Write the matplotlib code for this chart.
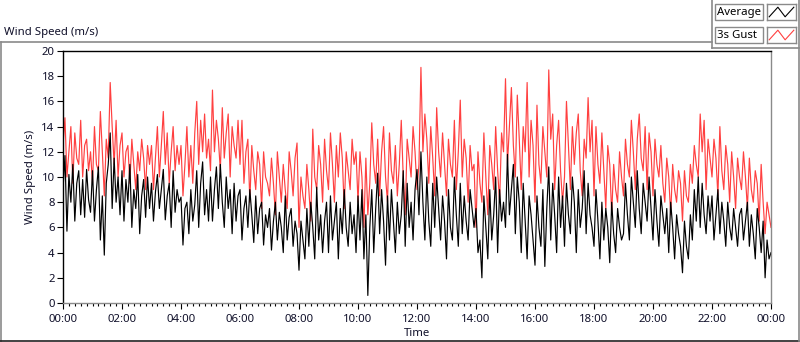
import matplotlib
matplotlib.use("Agg")
import matplotlib.pyplot as plt
from matplotlib.patches import Rectangle
from matplotlib.lines import Line2D
import numpy as np

plt.rcParams["font.family"] = ["Noto Sans", "DejaVu Sans"]

# ---- data (4-minute samples, hours 0..24) ----
average = [
    9.0, 11.7, 5.7, 10.2, 8.0, 11.0, 6.5, 9.5, 10.5, 7.0, 9.8, 6.8, 10.6, 8.2, 7.2,
    10.5, 6.5, 9.0, 10.8, 5.0, 8.5, 3.8, 9.5, 11.0, 13.5, 7.5, 11.5, 8.0, 10.0, 7.0,
    10.5, 6.5, 9.8, 8.0, 11.0, 6.0, 9.0, 7.5, 10.2, 5.5, 8.5, 9.8, 6.8, 10.0, 7.5,
    9.5, 6.5, 8.8, 10.2, 7.5, 9.0, 10.6, 6.6, 8.5, 9.5, 6.0, 10.5, 7.2, 9.0, 8.0,
    8.4, 4.6, 7.5, 8.0, 5.5, 9.0, 6.5, 7.8, 10.5, 6.0, 9.5, 11.2, 7.0, 9.0, 6.5,
    10.0, 6.5, 9.0, 10.8, 7.5, 11.0, 8.0, 6.0, 10.0, 7.5, 9.0, 5.5, 9.5, 6.5, 8.5,
    9.0, 5.0, 7.5, 8.5, 6.0, 9.0, 7.0, 4.8, 8.5, 5.5, 7.5, 8.0, 4.6, 7.0, 6.0,
    7.5, 4.2, 6.5, 8.0, 5.0, 7.2, 6.0, 4.0, 8.5, 5.0, 6.8, 7.5, 4.5, 6.5, 5.5,
    2.6, 6.5, 5.0, 3.5, 7.5, 4.5, 8.0, 6.0, 3.5, 9.2, 5.0, 7.0, 4.0, 6.5, 8.0,
    4.0, 8.5, 5.0, 6.5, 8.0, 3.5, 7.5, 5.5, 9.0, 6.0, 4.5, 8.0, 5.5, 7.0, 4.0,
    8.5, 5.0, 9.0, 3.5, 7.0, 0.6, 6.0, 9.0, 4.0, 7.5, 10.3, 5.5, 9.0, 6.5, 3.0,
    8.5, 5.0, 9.0, 6.5, 4.0, 8.0, 5.5, 7.0, 10.5, 4.5, 9.5, 6.0, 8.0, 5.0, 9.0,
    10.6, 7.0, 12.0, 8.0, 5.0, 10.0, 6.5, 4.5, 9.5, 6.0, 10.0, 7.5, 5.0, 8.5, 6.5,
    3.5, 9.0, 6.0, 5.0, 10.0, 7.0, 4.5, 9.5, 5.5, 8.5, 6.5, 5.0, 9.0, 7.5, 6.0,
    7.5, 4.0, 5.0, 2.0, 8.5, 6.0, 3.5, 9.0, 5.0, 7.0, 10.0, 4.0, 9.0, 6.5, 8.0,
    6.0, 11.8, 7.0, 9.0, 11.0, 5.5, 10.0, 8.0, 4.0, 9.5, 6.5, 3.5, 8.5, 7.0, 5.0,
    3.0, 8.5, 6.0, 4.5, 9.0, 2.9, 7.5, 10.8, 5.0, 9.5, 7.0, 4.0, 10.0, 6.0, 8.5,
    4.5, 9.5, 7.0, 5.5, 10.0, 8.0, 4.0, 9.0, 6.0, 7.5, 10.5, 5.5, 9.5, 7.0, 6.0,
    4.5, 9.0, 6.5, 3.5, 8.0, 5.0, 7.5, 6.0, 3.2, 8.0, 5.5, 4.0, 7.5, 6.0, 5.0,
    5.5, 9.5, 7.0, 5.0, 10.0, 8.0, 6.0, 10.5, 7.5, 5.5, 9.5, 8.0, 6.5, 10.0, 7.5,
    5.0, 9.0, 6.5, 4.5, 8.5, 7.0, 5.5, 7.5, 4.0, 8.0, 6.0, 3.5, 7.0, 5.5, 4.5,
    2.4, 6.5, 4.5, 3.5, 7.0, 5.0, 9.0, 6.5, 10.0, 6.0, 9.5, 7.0, 5.5, 8.5, 6.5,
    8.5, 5.0, 7.0, 9.0, 5.5, 8.0, 6.5, 4.5, 8.0, 6.0, 5.0, 7.5, 6.0, 4.5, 7.0,
    7.5, 5.0, 6.5, 8.0, 4.5, 7.0, 5.5, 3.5, 7.5, 6.0, 4.0, 6.5, 2.0, 5.0, 3.5,
    4.0,
]
gust = [
    12.5, 14.7, 10.0, 12.0, 14.0, 9.5, 13.5, 11.5, 11.0, 14.5, 10.0, 12.5, 13.0, 10.5, 12.0,
    9.5, 14.0, 11.0, 10.5, 15.2, 12.0, 8.5, 13.0, 11.5, 17.5, 14.0, 11.0, 14.5, 10.0, 12.5,
    13.5, 10.0, 12.0, 12.5, 9.5, 13.0, 11.0, 9.0, 12.0, 10.5, 13.0, 11.5, 9.0, 12.5, 11.0,
    12.5, 9.0, 11.5, 14.0, 10.0, 12.5, 15.2, 11.0, 13.5, 9.5, 12.0, 14.0, 10.5, 12.5, 11.0,
    12.5, 8.5, 11.0, 14.0, 10.0, 12.5, 9.5, 13.5, 16.0, 11.0, 14.5, 12.0, 15.0, 11.5, 13.0,
    10.5, 16.9, 12.0, 14.5, 13.0, 10.5, 15.5, 11.5, 13.5, 15.0, 10.0, 14.0, 12.5, 11.5, 14.5,
    11.0, 14.5, 9.5, 12.0, 13.0, 8.0, 12.5, 10.5, 9.0, 12.0, 11.0, 7.5, 12.0, 10.0, 9.5,
    8.5, 11.5, 9.5, 7.0, 12.0, 10.0, 8.0, 11.0, 9.0, 7.5, 12.0, 10.5, 8.5, 11.5, 12.7,
    6.0, 10.0, 8.5, 7.5, 11.0, 9.0, 6.5, 13.8, 10.0, 9.0, 12.5, 11.0, 8.0, 13.0, 10.5,
    9.0, 13.5, 11.0, 8.0, 12.5, 10.0, 13.5, 11.5, 7.5, 12.0, 10.5, 9.0, 13.0, 11.0, 12.0,
    8.0, 12.0, 10.0, 6.0, 11.5, 7.0, 9.5, 14.3, 11.0, 9.5, 13.0, 8.5, 12.0, 14.0, 10.0,
    8.0, 13.5, 10.5, 9.5, 12.5, 8.5, 11.0, 14.5, 10.0, 7.0, 13.0, 11.5, 10.0, 14.0, 12.0,
    9.0, 11.0, 18.7, 12.0, 15.0, 13.0, 9.5, 14.0, 11.5, 8.5, 15.5, 12.0, 10.0, 13.5, 11.0,
    8.5, 13.0, 11.0, 10.0, 14.5, 9.0, 12.0, 16.1, 10.0, 13.0, 11.5, 8.0, 12.5, 10.5, 11.0,
    6.0, 12.0, 9.5, 8.0, 13.5, 10.0, 7.0, 12.5, 11.0, 9.0, 14.0, 10.5, 8.0, 13.5, 12.0,
    17.8, 11.0, 14.0, 17.1, 12.5, 10.0, 16.5, 13.0, 9.0, 14.0, 12.0, 17.5, 10.0, 14.5, 12.5,
    8.0, 15.7, 11.0, 9.5, 14.0, 12.0, 10.0, 18.5, 13.0, 15.0, 9.0, 12.5, 14.5, 10.5, 8.0,
    10.0, 16.0, 12.5, 9.0, 14.0, 11.0, 13.5, 15.0, 10.5, 8.5, 13.0, 11.5, 16.3, 12.0, 14.5,
    8.5, 14.0, 11.0, 9.5, 13.5, 10.5, 7.5, 12.5, 11.0, 7.0, 11.0, 9.0, 8.0, 12.0, 10.0,
    8.5, 13.0, 11.0, 10.0, 14.5, 12.0, 9.0, 13.0, 15.0, 11.5, 10.5, 14.0, 9.0, 13.5, 12.0,
    8.5, 13.0, 11.0, 10.0, 12.5, 9.5, 8.0, 11.5, 10.0, 7.0, 11.0, 9.0, 8.0, 10.5, 9.5,
    6.5, 10.5, 8.5, 8.0, 11.0, 9.5, 12.5, 11.0, 10.0, 15.0, 12.0, 14.5, 9.0, 13.0, 11.5,
    10.0, 13.0, 11.5, 8.5, 14.0, 10.5, 9.0, 12.5, 11.0, 8.0, 12.0, 10.0, 7.5, 11.5, 10.0,
    9.0, 12.0, 10.0, 7.5, 11.5, 9.0, 8.0, 10.5, 9.5, 6.5, 11.0, 8.0, 5.5, 8.0, 7.0,
    6.0,
]
avg_hours = np.linspace(0, 24, len(average))
gust_hours = np.linspace(0, 24, len(gust))
tick_hours = list(range(0, 25, 2))
tick_labels = ["00:00", "02:00", "04:00", "06:00", "08:00", "10:00", "12:00",
               "14:00", "16:00", "18:00", "20:00", "22:00", "00:00"]
series_names = ["Average", "3s Gust"]

W, H = 800, 342
fig = plt.figure(figsize=(W / 100, H / 100), dpi=100)
fig.patch.set_facecolor("white")

def fx(px):
    return px / W

def fy(py):
    return 1 - py / H

txt_color = "#10102a"
FS = 8.2

# outer frames
gray = "#8a8a8a"
fig.add_artist(Line2D([fx(0.5), fx(712)], [fy(42), fy(42)], color=gray, lw=1.2))
fig.add_artist(Line2D([fx(0.8), fx(0.8)], [fy(42), fy(341)], color=gray, lw=1.2))
fig.add_artist(Line2D([fx(0), fx(799)], [fy(341), fy(341)], color="#222222", lw=1.2))
fig.add_artist(Line2D([fx(798.5), fx(798.5)], [fy(0), fy(341)], color=gray, lw=1.2))
fig.add_artist(Line2D([fx(712), fx(712)], [fy(0), fy(48)], color=gray, lw=1.2))
fig.add_artist(Line2D([fx(712), fx(799)], [fy(48), fy(48)], color=gray, lw=1.2))

fig.text(fx(4), fy(32), "Wind Speed (m/s)", fontsize=FS, color=txt_color,
         ha="left", va="center")

# legend (LabVIEW style)
colors = ["#000000", "#ff4040"]
for i, (name, c) in enumerate(zip(series_names, colors)):
    top = 4 + i * 23
    fig.add_artist(Rectangle((fx(715), fy(top + 16)), fx(48), 16 / H,
                             fill=False, ec=gray, lw=1.0))
    fig.text(fx(717), fy(top + 8), name, fontsize=FS, color="black",
             ha="left", va="center")
    iax = fig.add_axes([fx(767), fy(top + 16), fx(29), 16 / H])
    iax.set_xlim(0, 4)
    iax.set_ylim(0, 4)
    iax.plot([0.3, 1.5, 2.5, 3.7], [0.8, 3.2, 0.8, 3.2], color=c, lw=0.8)
    iax.set_xticks([])
    iax.set_yticks([])
    for s in iax.spines.values():
        s.set_color(gray)
        s.set_linewidth(1.0)

# main axes
ax = fig.add_axes([fx(63), fy(303), fx(771 - 63), (303 - 51) / H])
ax.plot(gust_hours, gust, color=colors[1], lw=0.85)
ax.plot(avg_hours, average, color=colors[0], lw=0.85)
ax.set_xlim(0, 24)
ax.set_ylim(0, 20)
ax.set_yticks(range(0, 21, 2))
ax.set_xticks(tick_hours)
ax.set_xticklabels(tick_labels)
ax.set_xticks(np.arange(0, 24.01, 0.2), minor=True)
ax.tick_params(axis="both", which="major", labelsize=FS, colors="black",
               labelcolor=txt_color, length=4, width=0.8, direction="out", pad=2)
ax.tick_params(axis="x", which="major", pad=4)
ax.tick_params(axis="x", which="minor", length=2.5, width=0.8, direction="out")
ax.tick_params(axis="y", which="minor", length=0)
ax.spines["left"].set_color("black")
ax.spines["top"].set_color("black")
ax.spines["right"].set_color(gray)
ax.spines["bottom"].set_color(gray)
for s in ax.spines.values():
    s.set_linewidth(1.0)
ax.set_xlabel("Time", fontsize=FS, color=txt_color, labelpad=2)
ax.set_ylabel("Wind Speed (m/s)", fontsize=FS, color=txt_color, labelpad=4)

fig.savefig("out.png", dpi=100)
